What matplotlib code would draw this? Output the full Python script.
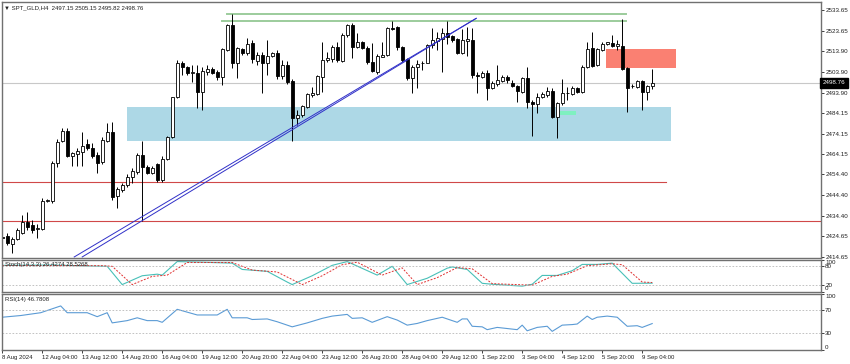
import matplotlib
matplotlib.use("Agg")
import matplotlib.pyplot as plt
from matplotlib.patches import Rectangle

plt.rcParams['font.family'] = ['Liberation Sans', 'DejaVu Sans']

# H4 candles (open, high, low, close)
opens = [2424.15, 2424.63, 2420.77, 2423.18, 2426.08, 2431.40, 2429.95, 2428.00, 2428.01, 2441.54,
         2441.54, 2459.89, 2470.50, 2475.35, 2463.27, 2464.24, 2465.20, 2469.07, 2467.14, 2463.76,
         2460.37, 2470.52, 2474.86, 2443.95, 2446.85, 2449.27, 2453.13, 2455.54, 2463.76, 2457.96,
         2455.06, 2459.41, 2451.68, 2461.82, 2472.45, 2491.77, 2508.19, 2506.26, 2503.50, 2503.36,
         2494.18, 2503.84, 2505.29, 2503.84, 2501.43, 2514.47, 2526.55, 2508.19, 2514.95, 2513.02,
         2517.85, 2509.16, 2512.06, 2508.19, 2511.57, 2513.02, 2501.91, 2507.22, 2499.50, 2481.63,
         2483.07, 2486.94, 2492.73, 2493.22, 2501.43, 2509.64, 2510.12, 2515.92, 2509.16, 2521.72,
         2526.55, 2515.92, 2518.33, 2515.44, 2508.67, 2503.84, 2511.09, 2512.06, 2525.10, 2525.58,
         2515.92, 2510.12, 2500.95, 2506.26, 2508.00, 2508.19, 2516.88, 2518.82, 2519.78, 2522.68,
         2521.23, 2519.78, 2513.02, 2518.82, 2519.30, 2502.39, 2501.43, 2503.36, 2496.12, 2498.05,
         2499.50, 2501.43, 2498.53, 2497.08, 2494.18, 2500.95, 2489.35, 2488.39, 2491.77, 2492.73,
         2494.67, 2482.11, 2488.87, 2493.80, 2493.22, 2496.12, 2494.18, 2506.26, 2515.44, 2507.22,
         2514.47, 2517.37, 2517.85, 2516.40, 2516.40, 2505.78, 2497.30, 2496.60, 2499.50, 2494.18,
         2497.15]
highs = [2426.08, 2426.08, 2424.15, 2428.50, 2434.78, 2436.22, 2432.36, 2430.40, 2443.00, 2442.50,
         2460.80, 2471.50, 2476.80, 2476.80, 2465.20, 2467.14, 2474.86, 2471.50, 2469.50, 2465.20,
         2472.45, 2479.20, 2479.69, 2448.30, 2450.30, 2454.60, 2457.48, 2464.50, 2470.50, 2458.80,
         2458.50, 2459.90, 2463.30, 2473.00, 2492.00, 2509.64, 2509.16, 2507.00, 2507.22, 2507.22,
         2506.26, 2507.20, 2506.30, 2504.80, 2515.44, 2527.30, 2531.86, 2515.92, 2515.50, 2520.10,
         2519.30, 2513.50, 2513.50, 2519.30, 2513.50, 2514.50, 2509.60, 2509.30, 2500.46, 2485.50,
         2487.90, 2493.90, 2496.50, 2502.40, 2518.33, 2513.60, 2516.90, 2518.33, 2522.50, 2527.30,
         2527.51, 2522.70, 2519.00, 2516.40, 2517.85, 2512.80, 2518.33, 2525.80, 2528.48, 2526.10,
         2516.40, 2510.60, 2507.20, 2509.64, 2509.20, 2517.60, 2524.90, 2523.20, 2524.90, 2528.60,
         2521.70, 2520.30, 2524.50, 2525.60, 2525.00, 2503.80, 2504.30, 2504.81, 2499.50, 2507.22,
         2502.60, 2502.60, 2499.90, 2497.60, 2501.40, 2506.26, 2490.30, 2493.70, 2494.40, 2496.60,
         2496.00, 2489.40, 2500.40, 2496.70, 2497.10, 2496.60, 2507.20, 2518.33, 2523.16, 2515.30,
         2518.50, 2518.60, 2521.70, 2519.30, 2529.44, 2506.30, 2497.90, 2499.98, 2499.98, 2497.60,
         2505.15]
lows = [2422.22, 2420.29, 2416.42, 2422.70, 2425.60, 2427.53, 2426.08, 2423.67, 2427.60, 2441.00,
        2440.60, 2458.00, 2470.00, 2462.80, 2458.44, 2458.44, 2458.44, 2466.20, 2462.30, 2455.06,
        2459.41, 2470.00, 2442.02, 2438.16, 2446.00, 2448.50, 2450.23, 2454.50, 2431.88, 2454.40,
        2454.40, 2450.71, 2450.71, 2461.30, 2471.80, 2491.30, 2502.39, 2502.39, 2499.00, 2486.46,
        2485.49, 2502.40, 2502.90, 2499.98, 2497.56, 2514.20, 2505.78, 2500.95, 2512.00, 2512.00,
        2508.19, 2507.20, 2493.70, 2502.40, 2511.00, 2500.40, 2500.40, 2498.30, 2470.50, 2478.40,
        2482.30, 2486.60, 2491.90, 2492.70, 2494.18, 2508.80, 2508.80, 2508.80, 2508.80, 2520.90,
        2510.61, 2515.40, 2514.90, 2507.70, 2503.90, 2503.10, 2511.00, 2511.60, 2524.10, 2514.50,
        2508.80, 2500.00, 2493.70, 2496.10, 2504.80, 2508.00, 2515.40, 2514.50, 2504.00, 2517.60,
        2518.50, 2512.80, 2512.80, 2511.60, 2500.90, 2493.70, 2500.90, 2490.32, 2495.60, 2497.08,
        2499.00, 2498.70, 2496.40, 2489.40, 2493.90, 2486.50, 2472.93, 2484.04, 2491.10, 2491.90,
        2481.60, 2472.00, 2487.90, 2490.30, 2492.70, 2493.90, 2493.90, 2505.80, 2506.40, 2506.70,
        2514.10, 2516.90, 2516.00, 2514.70, 2504.81, 2484.52, 2496.00, 2496.10, 2485.49, 2490.30,
        2495.82]
closes = [2423.67, 2421.25, 2423.18, 2427.53, 2431.40, 2428.98, 2427.53, 2428.50, 2441.54, 2441.70,
          2459.89, 2470.03, 2475.35, 2463.27, 2464.72, 2465.69, 2468.10, 2467.14, 2463.27, 2459.89,
          2471.00, 2474.86, 2443.47, 2447.33, 2449.27, 2453.13, 2456.03, 2463.76, 2457.96, 2455.06,
          2457.48, 2451.68, 2461.82, 2472.45, 2491.77, 2508.19, 2506.26, 2503.36, 2503.84, 2494.18,
          2504.33, 2505.29, 2503.36, 2501.43, 2514.95, 2526.55, 2508.19, 2515.44, 2513.02, 2517.37,
          2510.12, 2512.06, 2508.19, 2511.57, 2513.02, 2501.91, 2507.22, 2499.01, 2481.63, 2483.07,
          2487.42, 2493.22, 2493.70, 2501.91, 2509.64, 2510.61, 2515.92, 2509.64, 2521.72, 2526.55,
          2515.92, 2518.33, 2515.44, 2508.67, 2504.33, 2511.57, 2512.06, 2525.10, 2524.61, 2515.92,
          2509.64, 2500.95, 2506.26, 2507.71, 2508.30, 2516.88, 2519.30, 2520.27, 2522.68, 2520.75,
          2519.30, 2513.02, 2519.30, 2519.78, 2502.39, 2501.91, 2503.36, 2496.12, 2498.53, 2499.98,
          2501.43, 2499.98, 2497.08, 2494.67, 2500.95, 2489.35, 2488.39, 2491.77, 2493.22, 2494.67,
          2482.11, 2488.87, 2493.70, 2493.50, 2496.12, 2494.18, 2506.26, 2514.95, 2506.74, 2514.95,
          2517.37, 2518.33, 2516.40, 2517.37, 2505.29, 2496.12, 2496.90, 2499.50, 2494.18, 2497.08,
          2498.76]

# Stochastic (14,3,3) main and signal, vertices as (bar, value)
stoch_k_bars = [0, 10, 20, 21, 24, 28, 31, 32, 35, 40, 46, 48, 53, 57, 58, 62, 66, 69, 75, 78,
                81, 85, 89, 90, 93, 96, 98, 104, 106, 108, 111, 114, 116, 119, 122, 126, 130]
stoch_k_vals = [83, 84, 80, 80, 22, 50, 55, 52, 95, 93, 90, 70, 64, 30, 22, 50, 83, 95, 52, 80,
                22, 42, 74, 78, 70, 26, 23, 17, 23, 51, 51, 66, 86, 86, 90, 26, 26.43]
stoch_d_bars = [0, 20, 22, 26, 30, 33, 37, 46, 50, 55, 60, 64, 68, 71, 76, 80, 83, 87, 91, 94,
                98, 106, 110, 113, 117, 122, 124, 128, 130]
stoch_d_vals = [82, 82, 80, 22, 48, 52, 92, 92, 68, 62, 22, 50, 85, 93, 52, 75, 22, 44, 76, 72,
                25, 20, 48, 55, 82, 88, 85, 30, 28.53]

# RSI(14) vertices
rsi_bars = [0, 3.7, 7.7, 11.7, 13, 17, 19, 21, 22, 25, 27, 29, 31, 32, 35, 39, 43, 45, 46, 49,
            50, 53, 55, 58, 61, 64, 66, 69, 70, 72, 74, 77, 79, 81, 83, 85, 88, 91, 92, 93,
            94, 96, 97, 99, 103, 104, 105, 107, 109, 110, 112, 114, 115, 117, 118, 119, 121, 123, 125, 127,
            128, 130]
rsi_vals = [58, 61, 66, 78, 66, 66, 59, 66, 48, 52, 57, 52, 52, 49, 72, 62, 62, 72, 57, 57,
            54, 55, 50, 41, 48, 56, 60, 63, 56, 57, 49, 59, 53, 44, 47, 52, 58, 49, 55, 55,
            42, 41, 36, 40, 36, 44, 34, 40, 42, 33, 44, 45, 46, 60, 54, 58, 60, 58, 42, 43,
            40, 46.78]

price_ticks = [2533.65, 2523.65, 2513.90, 2503.90, 2493.90, 2484.15, 2474.15, 2464.15,
               2454.40, 2444.40, 2434.40, 2424.65, 2414.65]
time_labels = ["8 Aug 2024", "12 Aug 04:00", "13 Aug 12:00", "14 Aug 20:00", "16 Aug 04:00",
               "19 Aug 12:00", "20 Aug 20:00", "22 Aug 04:00", "23 Aug 12:00", "26 Aug 20:00",
               "28 Aug 04:00", "29 Aug 12:00", "1 Sep 22:00", "3 Sep 04:00", "4 Sep 12:00",
               "5 Sep 20:00", "9 Sep 04:00"]

# drawn objects (bar index / price)
demand_zone = (24.9, 133.7, 2470.3, 2486.9)
supply_zone = (120.8, 134.7, 2505.9, 2514.8)
green_box = (111.0, 114.8, 2483.1, 2485.0)
top_lines = [(44.9, 124.7, 2531.86), (43.9, 124.7, 2528.6)]
red_levels = [(-1, 132.7, 2450.57), (-1, 170, 2431.9)]
trend_a = ([14.4, 94.8], [2414.5, 2529.8])
trend_b = ([16.0, 94.8], [2414.5, 2529.8])

FS = 4.3
W, H = 850, 364
fig = plt.figure(figsize=(W / 100, H / 100), dpi=100)


def box(top, bottom, left=2, right=821):
    return [left / W, 1 - bottom / H, (right - left) / W, (bottom - top) / H]


ax = fig.add_axes(box(2, 258))
ax_st = fig.add_axes(box(260, 291.5), sharex=ax)
ax_rsi = fig.add_axes(box(293.5, 350), sharex=ax)
xlim = (-0.04, 163.76)

for a in (ax, ax_st, ax_rsi):
    for s in a.spines.values():
        s.set_color('#707070')
        s.set_linewidth(1.0)
    a.yaxis.tick_right()
    a.tick_params(axis='y', length=2, width=0.6, labelsize=4.5, pad=1.0, colors='#202020')
    a.tick_params(axis='x', length=0, labelbottom=False)

# zones and lines
l, r, lo, hi = demand_zone
ax.add_patch(Rectangle((l, lo), r - l, hi - lo, color='#add8e6', lw=0, zorder=0))
l, r, lo, hi = supply_zone
ax.add_patch(Rectangle((l, lo), r - l, hi - lo, color='#fa8072', lw=0, zorder=0))
l, r, lo, hi = green_box
ax.add_patch(Rectangle((l, lo), r - l, hi - lo, color='#7ff0c0', lw=0, zorder=0.5))
for x0, x1, p in top_lines:
    ax.plot([x0, x1], [p, p], color='#9ccc9c', lw=1.4, zorder=1)
for x0, x1, p in red_levels:
    ax.plot([x0, x1], [p, p], color='#d04848', lw=0.8, zorder=1)
ax.axhline(closes[-1], color='#c8c8c8', lw=0.8, zorder=0.4)
for xs, ys in (trend_a, trend_b):
    ax.plot(xs, ys, color='#3030c8', lw=0.7, zorder=3)

# candles
n = len(opens)
for i in range(n):
    o, h, lw_, c = opens[i], highs[i], lows[i], closes[i]
    ax.vlines(i, lw_, h, color='black', lw=0.7, zorder=2)
    bottom = min(o, c)
    height = max(abs(c - o), 0.25)
    face = 'white' if c >= o else 'black'
    ax.add_patch(Rectangle((i - 0.3, bottom), 0.6, height, facecolor=face,
                           edgecolor='black', lw=0.6, zorder=2.5))

ax.set_xlim(*xlim)
ax.set_ylim(2414.0, 2537.7)
ax.set_yticks(price_ticks)
ax.set_yticklabels([f"{p:.2f}" for p in price_ticks])
# last price tag
ax.annotate(f"{closes[-1]:.2f}", xy=(1.0, closes[-1]), xycoords=('axes fraction', 'data'),
            xytext=(1.2, 0), textcoords='offset points', fontsize=4.5, color='white',
            va='center', ha='left',
            bbox=dict(boxstyle='square,pad=0.4', fc='black', ec='black'))
ax.text(0.003, 0.988, "\u25bc SPT_GLD,H4  2497.15 2505.15 2495.82 2498.76",
        transform=ax.transAxes, fontsize=FS, va='top', ha='left', color='#202020')

# stochastic
ax_st.plot(stoch_k_bars, stoch_k_vals, color='#48c0b8', lw=0.8)
ax_st.plot(stoch_d_bars, stoch_d_vals, color='#e03030', lw=0.7, ls=(0, (2, 1.5)))
for lv in (80, 20):
    ax_st.axhline(lv, color='#b8b8b8', lw=0.6, ls=(0, (2, 2)))
ax_st.set_ylim(0, 100)
ax_st.set_yticks([100, 80, 20, 0])
ax_st.set_yticklabels(["100", "80", "20", "0"])
ax_st.text(0.004, 0.93, "Stoch(14,3,3) 26.4274 28.5268", transform=ax_st.transAxes,
           fontsize=FS, va='top', ha='left', color='#202020')

# rsi
ax_rsi.plot(rsi_bars, rsi_vals, color='#5b9bd5', lw=0.8)
for lv in (70, 30):
    ax_rsi.axhline(lv, color='#b8b8b8', lw=0.6, ls=(0, (2, 2)))
ax_rsi.set_ylim(0, 100)
ax_rsi.set_yticks([100, 70, 30, 0])
ax_rsi.set_yticklabels(["100", "70", "30", "0"])
ax_rsi.text(0.004, 0.93, "RSI(14) 46.7808", transform=ax_rsi.transAxes,
            fontsize=FS, va='top', ha='left', color='#202020')

for a in (ax_st, ax_rsi):
    labs = a.get_yticklabels()
    labs[0].set_va('top')
    labs[-1].set_va('bottom')

tick_pos = [8 * k for k in range(len(time_labels))]
ax_rsi.set_xticks(tick_pos)
ax_rsi.set_xticklabels(time_labels)
ax_rsi.tick_params(axis='x', length=2, width=0.6, labelbottom=True, labelsize=FS, pad=1.5,
                   colors='#202020')
for t in ax_rsi.get_xticklabels():
    t.set_ha('left')
ax_rsi.set_xlim(*xlim)

fig.savefig("out.png", dpi=100, facecolor='white')
